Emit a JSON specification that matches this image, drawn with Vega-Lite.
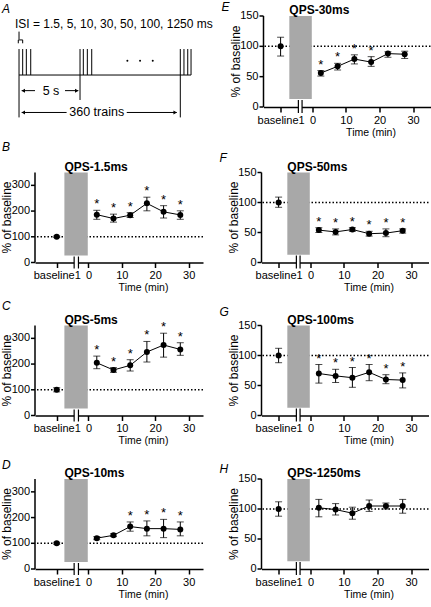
{
"$schema":"https://vega.github.io/schema/vega-lite/v6.json",
"padding":0,
"config":{
 "font":"Liberation Sans",
 "view":{"stroke":null},
 "text":{"font":"Liberation Sans","color":"#000"},
 "title":{"anchor":"start","frame":"group","fontSize":12,"fontStyle":"italic","fontWeight":"normal","font":"Liberation Sans","color":"#000"},
 "axis":{"domainColor":"#000","domainWidth":1.5,"tickColor":"#000","tickWidth":1.5,"labelColor":"#000","titleColor":"#000","labelFont":"Liberation Sans","titleFont":"Liberation Sans","labelFontSize":11,"grid":false,"labelOverlap":false,"labelFlush":false,"labelBound":false,"titleFontWeight":"normal"},
 "axisX":{"tickSize":5,"labelPadding":2,"titleFontSize":10.5,"titlePadding":2}
},
"datasets":{
"ytL":[{"v":0},{"v":100},{"v":200},{"v":300}],
"ytR":[{"v":0},{"v":50},{"v":100},{"v":150}],
"pts":[
 {"panel":"B","t":-9.5,"mean":100,"lo":97,"hi":103,"sig":false},
 {"panel":"B","t":2.5,"mean":186,"lo":168,"hi":203,"sig":true},
 {"panel":"B","t":7.5,"mean":171,"lo":157,"hi":188,"sig":true},
 {"panel":"B","t":12.5,"mean":184,"lo":175,"hi":194,"sig":true},
 {"panel":"B","t":17.5,"mean":230,"lo":201,"hi":254,"sig":true},
 {"panel":"B","t":22.5,"mean":197,"lo":173,"hi":221,"sig":true},
 {"panel":"B","t":27.5,"mean":185,"lo":168,"hi":201,"sig":true},
 {"panel":"C","t":-9.5,"mean":100,"lo":92,"hi":108,"sig":false},
 {"panel":"C","t":2.5,"mean":205,"lo":182,"hi":231,"sig":true},
 {"panel":"C","t":7.5,"mean":177,"lo":168,"hi":186,"sig":true},
 {"panel":"C","t":12.5,"mean":195,"lo":173,"hi":217,"sig":true},
 {"panel":"C","t":17.5,"mean":247,"lo":208,"hi":288,"sig":true},
 {"panel":"C","t":22.5,"mean":274,"lo":227,"hi":320,"sig":true},
 {"panel":"C","t":27.5,"mean":257,"lo":234,"hi":283,"sig":true},
 {"panel":"D","t":-9.5,"mean":100,"lo":96,"hi":104,"sig":false},
 {"panel":"D","t":2.5,"mean":120,"lo":114,"hi":126,"sig":false},
 {"panel":"D","t":7.5,"mean":131,"lo":126,"hi":137,"sig":false},
 {"panel":"D","t":12.5,"mean":165,"lo":147,"hi":183,"sig":true},
 {"panel":"D","t":17.5,"mean":157,"lo":129,"hi":187,"sig":true},
 {"panel":"D","t":22.5,"mean":157,"lo":122,"hi":193,"sig":true},
 {"panel":"D","t":27.5,"mean":154,"lo":129,"hi":183,"sig":true},
 {"panel":"E","t":-9.5,"mean":100,"lo":84,"hi":115,"sig":false},
 {"panel":"E","t":2.5,"mean":56,"lo":51,"hi":60,"sig":true},
 {"panel":"E","t":7.5,"mean":67,"lo":61,"hi":72,"sig":true},
 {"panel":"E","t":12.5,"mean":79,"lo":71,"hi":86,"sig":true},
 {"panel":"E","t":17.5,"mean":74,"lo":67,"hi":83,"sig":true},
 {"panel":"E","t":22.5,"mean":88,"lo":82,"hi":91,"sig":false},
 {"panel":"E","t":27.5,"mean":87,"lo":80,"hi":92,"sig":false},
 {"panel":"F","t":-9.5,"mean":100,"lo":92,"hi":109,"sig":false},
 {"panel":"F","t":2.5,"mean":54,"lo":50,"hi":58,"sig":true},
 {"panel":"F","t":7.5,"mean":51,"lo":46,"hi":56,"sig":true},
 {"panel":"F","t":12.5,"mean":55,"lo":52,"hi":58,"sig":true},
 {"panel":"F","t":17.5,"mean":48,"lo":44,"hi":52,"sig":true},
 {"panel":"F","t":22.5,"mean":49,"lo":43,"hi":56,"sig":true},
 {"panel":"F","t":27.5,"mean":53,"lo":49,"hi":56,"sig":true},
 {"panel":"G","t":-9.5,"mean":100,"lo":88,"hi":112,"sig":false},
 {"panel":"G","t":2.5,"mean":70,"lo":54,"hi":85,"sig":true},
 {"panel":"G","t":7.5,"mean":66,"lo":55,"hi":77,"sig":true},
 {"panel":"G","t":12.5,"mean":63,"lo":47,"hi":80,"sig":true},
 {"panel":"G","t":17.5,"mean":72,"lo":58,"hi":85,"sig":true},
 {"panel":"G","t":22.5,"mean":60,"lo":53,"hi":68,"sig":true},
 {"panel":"G","t":27.5,"mean":59,"lo":46,"hi":71,"sig":true},
 {"panel":"H","t":-9.5,"mean":100,"lo":88,"hi":112,"sig":false},
 {"panel":"H","t":2.5,"mean":102,"lo":87,"hi":116,"sig":false},
 {"panel":"H","t":7.5,"mean":99,"lo":90,"hi":109,"sig":false},
 {"panel":"H","t":12.5,"mean":93,"lo":83,"hi":103,"sig":false},
 {"panel":"H","t":17.5,"mean":105,"lo":96,"hi":115,"sig":false},
 {"panel":"H","t":22.5,"mean":105,"lo":100,"hi":110,"sig":false},
 {"panel":"H","t":27.5,"mean":105,"lo":93,"hi":116,"sig":false}
]},
"spacing":2.5,
"vconcat":[
 {"spacing":8.5,"hconcat":[
  {"width":168,"height":110,
   "title":{"text":"A","dx":-33,"offset":-0.2},
   "data":{"values":[{}]},
   "layer":[
    {"data":{"values":[{"t":0},{"t":0.3},{"t":0.6},{"t":0.96},{"t":5},{"t":5.27},{"t":5.6},{"t":5.96},{"t":13.22},{"t":13.52},{"t":13.83},{"t":14.1}]},
     "mark":{"type":"rule","color":"#000","strokeWidth":1},
     "encoding":{"x":{"field":"t","type":"quantitative","scale":{"domain":[1.31,15.08],"nice":false,"zero":false},"axis":null},
                 "y":{"datum":0,"type":"quantitative","scale":{"domain":[-1.96,2.27],"nice":false,"zero":false},"axis":null},"y2":{"datum":1}}},
    {"mark":{"type":"rule","color":"#000","strokeWidth":1},
     "encoding":{"x":{"datum":0,"type":"quantitative","scale":{"domain":[1.31,15.08],"nice":false,"zero":false},"axis":null},"x2":{"datum":14.1},"y":{"datum":0,"type":"quantitative","scale":{"domain":[-1.96,2.27],"nice":false,"zero":false},"axis":null}}},
    {"data":{"values":[{"t":0},{"t":13.22}]},"mark":{"type":"rule","color":"#000","strokeWidth":1},
     "encoding":{"x":{"field":"t","type":"quantitative","scale":{"domain":[1.31,15.08],"nice":false,"zero":false},"axis":null},"y":{"datum":0,"type":"quantitative","scale":{"domain":[-1.96,2.27],"nice":false,"zero":false},"axis":null},"y2":{"datum":-1.63}}},
    {"mark":{"type":"rule","color":"#000","strokeWidth":1},
     "encoding":{"x":{"datum":5,"type":"quantitative","scale":{"domain":[1.31,15.08],"nice":false,"zero":false},"axis":null},"y":{"datum":0,"type":"quantitative","scale":{"domain":[-1.96,2.27],"nice":false,"zero":false},"axis":null},"y2":{"datum":-0.96}}},
    {"mark":{"type":"rule","color":"#000","strokeWidth":1},
     "encoding":{"x":{"datum":0.22,"type":"quantitative","scale":{"domain":[1.31,15.08],"nice":false,"zero":false},"axis":null},"x2":{"datum":1.31},"y":{"datum":-0.6,"type":"quantitative","scale":{"domain":[-1.96,2.27],"nice":false,"zero":false},"axis":null}}},
    {"mark":{"type":"rule","color":"#000","strokeWidth":1},
     "encoding":{"x":{"datum":3.77,"type":"quantitative","scale":{"domain":[1.31,15.08],"nice":false,"zero":false},"axis":null},"x2":{"datum":4.86},"y":{"datum":-0.6,"type":"quantitative","scale":{"domain":[-1.96,2.27],"nice":false,"zero":false},"axis":null}}},
    {"mark":{"type":"rule","color":"#000","strokeWidth":1},
     "encoding":{"x":{"datum":0.22,"type":"quantitative","scale":{"domain":[1.31,15.08],"nice":false,"zero":false},"axis":null},"x2":{"datum":3.9},"y":{"datum":-1.44,"type":"quantitative","scale":{"domain":[-1.96,2.27],"nice":false,"zero":false},"axis":null}}},
    {"mark":{"type":"rule","color":"#000","strokeWidth":1},
     "encoding":{"x":{"datum":8.83,"type":"quantitative","scale":{"domain":[1.31,15.08],"nice":false,"zero":false},"axis":null},"x2":{"datum":12.93},"y":{"datum":-1.44,"type":"quantitative","scale":{"domain":[-1.96,2.27],"nice":false,"zero":false},"axis":null}}},
    {"mark":{"type":"point","shape":"triangle-left","filled":true,"opacity":1,"size":16,"color":"#000"},
     "encoding":{"x":{"datum":0.35,"type":"quantitative","scale":{"domain":[1.31,15.08],"nice":false,"zero":false},"axis":null},"y":{"datum":-0.6,"type":"quantitative","scale":{"domain":[-1.96,2.27],"nice":false,"zero":false},"axis":null}}},
    {"mark":{"type":"point","shape":"triangle-right","filled":true,"opacity":1,"size":16,"color":"#000"},
     "encoding":{"x":{"datum":4.73,"type":"quantitative","scale":{"domain":[1.31,15.08],"nice":false,"zero":false},"axis":null},"y":{"datum":-0.6,"type":"quantitative","scale":{"domain":[-1.96,2.27],"nice":false,"zero":false},"axis":null}}},
    {"mark":{"type":"point","shape":"triangle-left","filled":true,"opacity":1,"size":16,"color":"#000"},
     "encoding":{"x":{"datum":0.35,"type":"quantitative","scale":{"domain":[1.31,15.08],"nice":false,"zero":false},"axis":null},"y":{"datum":-1.44,"type":"quantitative","scale":{"domain":[-1.96,2.27],"nice":false,"zero":false},"axis":null}}},
    {"mark":{"type":"point","shape":"triangle-right","filled":true,"opacity":1,"size":16,"color":"#000"},
     "encoding":{"x":{"datum":12.8,"type":"quantitative","scale":{"domain":[1.31,15.08],"nice":false,"zero":false},"axis":null},"y":{"datum":-1.44,"type":"quantitative","scale":{"domain":[-1.96,2.27],"nice":false,"zero":false},"axis":null}}},
    {"mark":{"type":"text","text":"5 s","align":"center","baseline":"middle","fontSize":12.5,"fill":"#000"},
     "encoding":{"x":{"datum":2.62,"type":"quantitative","scale":{"domain":[1.31,15.08],"nice":false,"zero":false},"axis":null},"y":{"datum":-0.6,"type":"quantitative","scale":{"domain":[-1.96,2.27],"nice":false,"zero":false},"axis":null}}},
    {"mark":{"type":"text","text":"360 trains","align":"center","baseline":"middle","fontSize":12.5,"fill":"#000"},
     "encoding":{"x":{"datum":6.37,"type":"quantitative","scale":{"domain":[1.31,15.08],"nice":false,"zero":false},"axis":null},"y":{"datum":-1.44,"type":"quantitative","scale":{"domain":[-1.96,2.27],"nice":false,"zero":false},"axis":null}}},
    {"data":{"values":[{"t":8.88},{"t":9.92},{"t":10.96}]},"mark":{"type":"point","filled":true,"opacity":1,"size":4,"color":"#000"},
     "encoding":{"x":{"field":"t","type":"quantitative","scale":{"domain":[1.31,15.08],"nice":false,"zero":false},"axis":null},"y":{"datum":0.55,"type":"quantitative","scale":{"domain":[-1.96,2.27],"nice":false,"zero":false},"axis":null}}},
    {"mark":{"type":"text","text":"ISI = 1.5, 5, 10, 30, 50, 100, 1250 ms","align":"left","baseline":"alphabetic","fontSize":12,"fill":"#000"},
     "encoding":{"x":{"datum":-0.33,"type":"quantitative","scale":{"domain":[1.31,15.08],"nice":false,"zero":false},"axis":null},"y":{"datum":1.8,"type":"quantitative","scale":{"domain":[-1.96,2.27],"nice":false,"zero":false},"axis":null}}},
    {"mark":{"type":"rule","color":"#000","strokeWidth":1},
     "encoding":{"x":{"datum":0,"type":"quantitative","scale":{"domain":[1.31,15.08],"nice":false,"zero":false},"axis":null},"y":{"datum":1.67,"type":"quantitative","scale":{"domain":[-1.96,2.27],"nice":false,"zero":false},"axis":null},"y2":{"datum":1.37}}},
    {"mark":{"type":"rule","color":"#000","strokeWidth":1},
     "encoding":{"x":{"datum":-0.06,"type":"quantitative","scale":{"domain":[1.31,15.08],"nice":false,"zero":false},"axis":null},"x2":{"datum":0.3},"y":{"datum":1.35,"type":"quantitative","scale":{"domain":[-1.96,2.27],"nice":false,"zero":false},"axis":null}}},
    {"mark":{"type":"rule","color":"#000","strokeWidth":1},
     "encoding":{"x":{"datum":-0.06,"type":"quantitative","scale":{"domain":[1.31,15.08],"nice":false,"zero":false},"axis":null},"y":{"datum":1.35,"type":"quantitative","scale":{"domain":[-1.96,2.27],"nice":false,"zero":false},"axis":null},"y2":{"datum":1.22}}},
    {"mark":{"type":"rule","color":"#000","strokeWidth":1},
     "encoding":{"x":{"datum":0.3,"type":"quantitative","scale":{"domain":[1.31,15.08],"nice":false,"zero":false},"axis":null},"y":{"datum":1.35,"type":"quantitative","scale":{"domain":[-1.96,2.27],"nice":false,"zero":false},"axis":null},"y2":{"datum":1.22}}}
   ]},
  {"width":167,"height":91,
   "title":{"text":"E","dx":-42,"offset":-9.5},
   "data":{"name":"pts"},
   "transform":[{"filter":"datum.panel === 'E'"}],
   "layer":[
    {"data":{"values":[{}]},"mark":{"type":"rule","color":"#000","strokeWidth":1.5,"strokeDash":[1.5,2]},
     "encoding":{"y":{"datum":100,"type":"quantitative","scale":{"domain":[0,150],"nice":false,"zero":false},"axis":null}}},
    {"data":{"values":[{}]},"mark":{"type":"rect","color":"#a8a8a8"},
     "encoding":{"x":{"datum":-6.9,"type":"quantitative","scale":{"domain":[-14.6,35.2],"nice":false,"zero":false}},"x2":{"datum":-0.2},"y":{"datum":13,"type":"quantitative","scale":{"domain":[0,150],"nice":false,"zero":false},"axis":null},"y2":{"datum":150}}},
    {"data":{"values":[{}]},"mark":{"type":"rect","color":"#fff","yOffset":3.5,"y2Offset":-3.5},
     "encoding":{"x":{"datum":-4.2,"type":"quantitative","scale":{"domain":[-14.6,35.2],"nice":false,"zero":false}},"x2":{"datum":-3.1},"y":{"datum":0,"type":"quantitative","scale":{"domain":[0,150],"nice":false,"zero":false},"axis":null},"y2":{"datum":0}}},
    {"data":{"values":[{}]},"mark":{"type":"rule","color":"#000","strokeWidth":1.2,"yOffset":6,"y2Offset":-7},
     "encoding":{"x":{"datum":-4.2,"type":"quantitative","scale":{"domain":[-14.6,35.2],"nice":false,"zero":false}},"y":{"datum":0,"type":"quantitative","scale":{"domain":[0,150],"nice":false,"zero":false},"axis":null},"y2":{"datum":0}}},
    {"data":{"values":[{}]},"mark":{"type":"rule","color":"#000","strokeWidth":1.2,"yOffset":6,"y2Offset":-7},
     "encoding":{"x":{"datum":-3.1,"type":"quantitative","scale":{"domain":[-14.6,35.2],"nice":false,"zero":false}},"y":{"datum":0,"type":"quantitative","scale":{"domain":[0,150],"nice":false,"zero":false},"axis":null},"y2":{"datum":0}}},
    {"data":{"values":[{}]},"mark":{"type":"text","text":"QPS-30ms","align":"left","baseline":"alphabetic","dy":-2,"fontSize":12,"fontWeight":"bold","fill":"#000"},
     "encoding":{"x":{"datum":-6.9,"type":"quantitative","scale":{"domain":[-14.6,35.2],"nice":false,"zero":false}},"y":{"datum":150,"type":"quantitative","scale":{"domain":[0,150],"nice":false,"zero":false},"axis":null}}},
    {"mark":{"type":"errorbar","color":"#000","ticks":{"size":7},"rule":{"strokeWidth":1}},
     "encoding":{"x":{"field":"t","type":"quantitative","title":"Time (min)","scale":{"domain":[-14.6,35.2],"nice":false,"zero":false}},"y":{"field":"lo","type":"quantitative","scale":{"domain":[0,150],"nice":false,"zero":false},"axis":null},"y2":{"field":"hi"}}},
    {"transform":[{"filter":"datum.t > 0"}],"mark":{"type":"line","color":"#000","strokeWidth":1},
     "encoding":{"x":{"field":"t","type":"quantitative","title":"Time (min)","scale":{"domain":[-14.6,35.2],"nice":false,"zero":false}},"y":{"field":"mean","type":"quantitative","scale":{"domain":[0,150],"nice":false,"zero":false},"axis":null}}},
    {"mark":{"type":"point","filled":true,"opacity":1,"size":36,"color":"#000"},
     "encoding":{"x":{"field":"t","type":"quantitative","scale":{"domain":[-14.6,35.2],"nice":false,"zero":false},"axis":{"title":"Time (min)","values":[-9.5,0,10,20,30],"labelExpr":"datum.value == -9.5 ? 'baseline1' : datum.label","titleX":107}},
                 "y":{"field":"mean","type":"quantitative","scale":{"domain":[0,150],"nice":false,"zero":false},"axis":null}}},
    {"transform":[{"filter":"datum.sig"}],"mark":{"type":"text","text":"*","dy":-2,"fontSize":13,"baseline":"alphabetic","fill":"#000"},
     "encoding":{"x":{"field":"t","type":"quantitative","title":"Time (min)","scale":{"domain":[-14.6,35.2],"nice":false,"zero":false}},"y":{"field":"hi","type":"quantitative","scale":{"domain":[0,150],"nice":false,"zero":false},"axis":null}}},
    {"data":{"values":[{}]},"mark":{"type":"rule","color":"#000","strokeWidth":1.5},
     "encoding":{"x":{"datum":-14.6,"type":"quantitative","scale":{"domain":[-14.6,35.2],"nice":false,"zero":false}},"y":{"datum":0,"type":"quantitative","scale":{"domain":[0,150],"nice":false,"zero":false},"axis":null},"y2":{"datum":150}}},
    {"data":{"name":"ytR"},"mark":{"type":"rule","color":"#000","strokeWidth":1.5,"x2Offset":-4},
     "encoding":{"x":{"datum":-14.6,"type":"quantitative","scale":{"domain":[-14.6,35.2],"nice":false,"zero":false}},"x2":{"datum":-14.6},"y":{"field":"v","type":"quantitative","scale":{"domain":[0,150],"nice":false,"zero":false},"axis":null}}},
    {"data":{"name":"ytR"},"mark":{"type":"text","align":"right","baseline":"middle","dx":-5,"fontSize":11,"fill":"#000"},
     "encoding":{"x":{"datum":-14.6,"type":"quantitative","scale":{"domain":[-14.6,35.2],"nice":false,"zero":false}},"y":{"field":"v","type":"quantitative","scale":{"domain":[0,150],"nice":false,"zero":false},"axis":null},"text":{"field":"v","type":"quantitative"}}},
    {"data":{"values":[{}]},"mark":{"type":"text","text":"% of baseline","angle":270,"align":"center","baseline":"middle","dy":-28,"fontSize":12,"fill":"#000"},
     "encoding":{"x":{"datum":-14.6,"type":"quantitative","scale":{"domain":[-14.6,35.2],"nice":false,"zero":false}},"y":{"datum":75,"type":"quantitative","scale":{"domain":[0,150],"nice":false,"zero":false},"axis":null}}}
   ]}
 ]},
 {"spacing":6,"vconcat":[
  {"spacing":15.5,"hconcat":[
   {"width":168,"height":90,
    "title":{"text":"B","dx":-33,"offset":6.7},
    "data":{"name":"pts"},
    "transform":[{"filter":"datum.panel === 'B'"}],
    "layer":[
     {"data":{"values":[{}]},"mark":{"type":"rule","color":"#000","strokeWidth":1.5,"strokeDash":[1.5,2]},
      "encoding":{"y":{"datum":100,"type":"quantitative","scale":{"domain":[0,350],"nice":false,"zero":false},"axis":null}}},
     {"data":{"values":[{}]},"mark":{"type":"rect","color":"#a8a8a8"},
      "encoding":{"x":{"datum":-7.2,"type":"quantitative","scale":{"domain":[-16,34.3],"nice":false,"zero":false}},"x2":{"datum":-0.2},"y":{"datum":27,"type":"quantitative","scale":{"domain":[0,350],"nice":false,"zero":false},"axis":null},"y2":{"datum":350}}},
     {"data":{"values":[{}]},"mark":{"type":"rect","color":"#fff","yOffset":3.5,"y2Offset":-3.5},
      "encoding":{"x":{"datum":-4.28,"type":"quantitative","scale":{"domain":[-16,34.3],"nice":false,"zero":false}},"x2":{"datum":-2.99},"y":{"datum":0,"type":"quantitative","scale":{"domain":[0,350],"nice":false,"zero":false},"axis":null},"y2":{"datum":0}}},
     {"data":{"values":[{}]},"mark":{"type":"rule","color":"#000","strokeWidth":1.2,"yOffset":6,"y2Offset":-6},
      "encoding":{"x":{"datum":-4.28,"type":"quantitative","scale":{"domain":[-16,34.3],"nice":false,"zero":false}},"y":{"datum":0,"type":"quantitative","scale":{"domain":[0,350],"nice":false,"zero":false},"axis":null},"y2":{"datum":0}}},
     {"data":{"values":[{}]},"mark":{"type":"rule","color":"#000","strokeWidth":1.2,"yOffset":6,"y2Offset":-6},
      "encoding":{"x":{"datum":-2.99,"type":"quantitative","scale":{"domain":[-16,34.3],"nice":false,"zero":false}},"y":{"datum":0,"type":"quantitative","scale":{"domain":[0,350],"nice":false,"zero":false},"axis":null},"y2":{"datum":0}}},
     {"data":{"values":[{}]},"mark":{"type":"text","text":"QPS-1.5ms","align":"left","baseline":"alphabetic","dy":-2,"fontSize":12,"fontWeight":"bold","fill":"#000"},
      "encoding":{"x":{"datum":-7.2,"type":"quantitative","scale":{"domain":[-16,34.3],"nice":false,"zero":false}},"y":{"datum":350,"type":"quantitative","scale":{"domain":[0,350],"nice":false,"zero":false},"axis":null}}},
     {"mark":{"type":"errorbar","color":"#000","ticks":{"size":7},"rule":{"strokeWidth":1}},
      "encoding":{"x":{"field":"t","type":"quantitative","title":"Time (min)","scale":{"domain":[-16,34.3],"nice":false,"zero":false}},"y":{"field":"lo","type":"quantitative","scale":{"domain":[0,350],"nice":false,"zero":false},"axis":null},"y2":{"field":"hi"}}},
     {"transform":[{"filter":"datum.t > 0"}],"mark":{"type":"line","color":"#000","strokeWidth":1},
      "encoding":{"x":{"field":"t","type":"quantitative","title":"Time (min)","scale":{"domain":[-16,34.3],"nice":false,"zero":false}},"y":{"field":"mean","type":"quantitative","scale":{"domain":[0,350],"nice":false,"zero":false},"axis":null}}},
     {"mark":{"type":"point","filled":true,"opacity":1,"size":36,"color":"#000"},
      "encoding":{"x":{"field":"t","type":"quantitative","scale":{"domain":[-16,34.3],"nice":false,"zero":false},"axis":{"title":"Time (min)","values":[-9.5,0,10,20,30],"labelExpr":"datum.value == -9.5 ? 'baseline1' : datum.label","titleX":108}},
                  "y":{"field":"mean","type":"quantitative","scale":{"domain":[0,350],"nice":false,"zero":false},"axis":null}}},
     {"transform":[{"filter":"datum.sig"}],"mark":{"type":"text","text":"*","dy":-2,"fontSize":13,"baseline":"alphabetic","fill":"#000"},
      "encoding":{"x":{"field":"t","type":"quantitative","title":"Time (min)","scale":{"domain":[-16,34.3],"nice":false,"zero":false}},"y":{"field":"hi","type":"quantitative","scale":{"domain":[0,350],"nice":false,"zero":false},"axis":null}}},
     {"data":{"values":[{}]},"mark":{"type":"rule","color":"#000","strokeWidth":1.5},
      "encoding":{"x":{"datum":-16,"type":"quantitative","scale":{"domain":[-16,34.3],"nice":false,"zero":false}},"y":{"datum":0,"type":"quantitative","scale":{"domain":[0,350],"nice":false,"zero":false},"axis":null},"y2":{"datum":350}}},
     {"data":{"name":"ytL"},"mark":{"type":"rule","color":"#000","strokeWidth":1.5,"x2Offset":-4},
      "encoding":{"x":{"datum":-16,"type":"quantitative","scale":{"domain":[-16,34.3],"nice":false,"zero":false}},"x2":{"datum":-16},"y":{"field":"v","type":"quantitative","scale":{"domain":[0,350],"nice":false,"zero":false},"axis":null}}},
     {"data":{"name":"ytL"},"mark":{"type":"text","align":"right","baseline":"middle","dx":-5,"fontSize":11,"fill":"#000"},
      "encoding":{"x":{"datum":-16,"type":"quantitative","scale":{"domain":[-16,34.3],"nice":false,"zero":false}},"y":{"field":"v","type":"quantitative","scale":{"domain":[0,350],"nice":false,"zero":false},"axis":null},"text":{"field":"v","type":"quantitative"}}},
     {"data":{"values":[{}]},"mark":{"type":"text","text":"% of baseline","angle":270,"align":"center","baseline":"middle","dy":-28,"fontSize":12,"fill":"#000"},
      "encoding":{"x":{"datum":-16,"type":"quantitative","scale":{"domain":[-16,34.3],"nice":false,"zero":false}},"y":{"datum":175,"type":"quantitative","scale":{"domain":[0,350],"nice":false,"zero":false},"axis":null}}}
    ]},
   {"width":167,"height":90,
    "title":{"text":"F","dx":-42,"offset":-4},
    "data":{"name":"pts"},
    "transform":[{"filter":"datum.panel === 'F'"}],
    "layer":[
     {"data":{"values":[{}]},"mark":{"type":"rule","color":"#000","strokeWidth":1.5,"strokeDash":[1.5,2]},
      "encoding":{"y":{"datum":100,"type":"quantitative","scale":{"domain":[0,150],"nice":false,"zero":false},"axis":null}}},
     {"data":{"values":[{}]},"mark":{"type":"rect","color":"#a8a8a8"},
      "encoding":{"x":{"datum":-6.9,"type":"quantitative","scale":{"domain":[-14.6,35.2],"nice":false,"zero":false}},"x2":{"datum":-0.2},"y":{"datum":13,"type":"quantitative","scale":{"domain":[0,150],"nice":false,"zero":false},"axis":null},"y2":{"datum":150}}},
     {"data":{"values":[{}]},"mark":{"type":"rect","color":"#fff","yOffset":3.5,"y2Offset":-3.5},
      "encoding":{"x":{"datum":-4.2,"type":"quantitative","scale":{"domain":[-14.6,35.2],"nice":false,"zero":false}},"x2":{"datum":-3.1},"y":{"datum":0,"type":"quantitative","scale":{"domain":[0,150],"nice":false,"zero":false},"axis":null},"y2":{"datum":0}}},
     {"data":{"values":[{}]},"mark":{"type":"rule","color":"#000","strokeWidth":1.2,"yOffset":6,"y2Offset":-7},
      "encoding":{"x":{"datum":-4.2,"type":"quantitative","scale":{"domain":[-14.6,35.2],"nice":false,"zero":false}},"y":{"datum":0,"type":"quantitative","scale":{"domain":[0,150],"nice":false,"zero":false},"axis":null},"y2":{"datum":0}}},
     {"data":{"values":[{}]},"mark":{"type":"rule","color":"#000","strokeWidth":1.2,"yOffset":6,"y2Offset":-7},
      "encoding":{"x":{"datum":-3.1,"type":"quantitative","scale":{"domain":[-14.6,35.2],"nice":false,"zero":false}},"y":{"datum":0,"type":"quantitative","scale":{"domain":[0,150],"nice":false,"zero":false},"axis":null},"y2":{"datum":0}}},
     {"data":{"values":[{}]},"mark":{"type":"text","text":"QPS-50ms","align":"left","baseline":"alphabetic","dy":-2,"fontSize":12,"fontWeight":"bold","fill":"#000"},
      "encoding":{"x":{"datum":-6.9,"type":"quantitative","scale":{"domain":[-14.6,35.2],"nice":false,"zero":false}},"y":{"datum":150,"type":"quantitative","scale":{"domain":[0,150],"nice":false,"zero":false},"axis":null}}},
     {"mark":{"type":"errorbar","color":"#000","ticks":{"size":7},"rule":{"strokeWidth":1}},
      "encoding":{"x":{"field":"t","type":"quantitative","title":"Time (min)","scale":{"domain":[-14.6,35.2],"nice":false,"zero":false}},"y":{"field":"lo","type":"quantitative","scale":{"domain":[0,150],"nice":false,"zero":false},"axis":null},"y2":{"field":"hi"}}},
     {"transform":[{"filter":"datum.t > 0"}],"mark":{"type":"line","color":"#000","strokeWidth":1},
      "encoding":{"x":{"field":"t","type":"quantitative","title":"Time (min)","scale":{"domain":[-14.6,35.2],"nice":false,"zero":false}},"y":{"field":"mean","type":"quantitative","scale":{"domain":[0,150],"nice":false,"zero":false},"axis":null}}},
     {"mark":{"type":"point","filled":true,"opacity":1,"size":36,"color":"#000"},
      "encoding":{"x":{"field":"t","type":"quantitative","scale":{"domain":[-14.6,35.2],"nice":false,"zero":false},"axis":{"title":"Time (min)","values":[-9.5,0,10,20,30],"labelExpr":"datum.value == -9.5 ? 'baseline1' : datum.label","titleX":107}},
                  "y":{"field":"mean","type":"quantitative","scale":{"domain":[0,150],"nice":false,"zero":false},"axis":null}}},
     {"transform":[{"filter":"datum.sig"}],"mark":{"type":"text","text":"*","dy":-2,"fontSize":13,"baseline":"alphabetic","fill":"#000"},
      "encoding":{"x":{"field":"t","type":"quantitative","title":"Time (min)","scale":{"domain":[-14.6,35.2],"nice":false,"zero":false}},"y":{"field":"hi","type":"quantitative","scale":{"domain":[0,150],"nice":false,"zero":false},"axis":null}}},
     {"data":{"values":[{}]},"mark":{"type":"rule","color":"#000","strokeWidth":1.5},
      "encoding":{"x":{"datum":-14.6,"type":"quantitative","scale":{"domain":[-14.6,35.2],"nice":false,"zero":false}},"y":{"datum":0,"type":"quantitative","scale":{"domain":[0,150],"nice":false,"zero":false},"axis":null},"y2":{"datum":150}}},
     {"data":{"name":"ytR"},"mark":{"type":"rule","color":"#000","strokeWidth":1.5,"x2Offset":-4},
      "encoding":{"x":{"datum":-14.6,"type":"quantitative","scale":{"domain":[-14.6,35.2],"nice":false,"zero":false}},"x2":{"datum":-14.6},"y":{"field":"v","type":"quantitative","scale":{"domain":[0,150],"nice":false,"zero":false},"axis":null}}},
     {"data":{"name":"ytR"},"mark":{"type":"text","align":"right","baseline":"middle","dx":-5,"fontSize":11,"fill":"#000"},
      "encoding":{"x":{"datum":-14.6,"type":"quantitative","scale":{"domain":[-14.6,35.2],"nice":false,"zero":false}},"y":{"field":"v","type":"quantitative","scale":{"domain":[0,150],"nice":false,"zero":false},"axis":null},"text":{"field":"v","type":"quantitative"}}},
     {"data":{"values":[{}]},"mark":{"type":"text","text":"% of baseline","angle":270,"align":"center","baseline":"middle","dy":-28,"fontSize":12,"fill":"#000"},
      "encoding":{"x":{"datum":-14.6,"type":"quantitative","scale":{"domain":[-14.6,35.2],"nice":false,"zero":false}},"y":{"datum":75,"type":"quantitative","scale":{"domain":[0,150],"nice":false,"zero":false},"axis":null}}}
    ]}
  ]},
  {"spacing":11.5,"vconcat":[
   {"spacing":15.5,"hconcat":[
    {"width":168,"height":90,
     "title":{"text":"C","dx":-33,"offset":0.6},
     "data":{"name":"pts"},
     "transform":[{"filter":"datum.panel === 'C'"}],
     "layer":[
      {"data":{"values":[{}]},"mark":{"type":"rule","color":"#000","strokeWidth":1.5,"strokeDash":[1.5,2]},
       "encoding":{"y":{"datum":100,"type":"quantitative","scale":{"domain":[0,350],"nice":false,"zero":false},"axis":null}}},
      {"data":{"values":[{}]},"mark":{"type":"rect","color":"#a8a8a8"},
       "encoding":{"x":{"datum":-7.2,"type":"quantitative","scale":{"domain":[-16,34.3],"nice":false,"zero":false}},"x2":{"datum":-0.2},"y":{"datum":27,"type":"quantitative","scale":{"domain":[0,350],"nice":false,"zero":false},"axis":null},"y2":{"datum":350}}},
      {"data":{"values":[{}]},"mark":{"type":"rect","color":"#fff","yOffset":3.5,"y2Offset":-3.5},
       "encoding":{"x":{"datum":-4.28,"type":"quantitative","scale":{"domain":[-16,34.3],"nice":false,"zero":false}},"x2":{"datum":-2.99},"y":{"datum":0,"type":"quantitative","scale":{"domain":[0,350],"nice":false,"zero":false},"axis":null},"y2":{"datum":0}}},
      {"data":{"values":[{}]},"mark":{"type":"rule","color":"#000","strokeWidth":1.2,"yOffset":6,"y2Offset":-6},
       "encoding":{"x":{"datum":-4.28,"type":"quantitative","scale":{"domain":[-16,34.3],"nice":false,"zero":false}},"y":{"datum":0,"type":"quantitative","scale":{"domain":[0,350],"nice":false,"zero":false},"axis":null},"y2":{"datum":0}}},
      {"data":{"values":[{}]},"mark":{"type":"rule","color":"#000","strokeWidth":1.2,"yOffset":6,"y2Offset":-6},
       "encoding":{"x":{"datum":-2.99,"type":"quantitative","scale":{"domain":[-16,34.3],"nice":false,"zero":false}},"y":{"datum":0,"type":"quantitative","scale":{"domain":[0,350],"nice":false,"zero":false},"axis":null},"y2":{"datum":0}}},
      {"data":{"values":[{}]},"mark":{"type":"text","text":"QPS-5ms","align":"left","baseline":"alphabetic","dy":-2,"fontSize":12,"fontWeight":"bold","fill":"#000"},
       "encoding":{"x":{"datum":-7.2,"type":"quantitative","scale":{"domain":[-16,34.3],"nice":false,"zero":false}},"y":{"datum":350,"type":"quantitative","scale":{"domain":[0,350],"nice":false,"zero":false},"axis":null}}},
      {"mark":{"type":"errorbar","color":"#000","ticks":{"size":7},"rule":{"strokeWidth":1}},
       "encoding":{"x":{"field":"t","type":"quantitative","title":"Time (min)","scale":{"domain":[-16,34.3],"nice":false,"zero":false}},"y":{"field":"lo","type":"quantitative","scale":{"domain":[0,350],"nice":false,"zero":false},"axis":null},"y2":{"field":"hi"}}},
      {"transform":[{"filter":"datum.t > 0"}],"mark":{"type":"line","color":"#000","strokeWidth":1},
       "encoding":{"x":{"field":"t","type":"quantitative","title":"Time (min)","scale":{"domain":[-16,34.3],"nice":false,"zero":false}},"y":{"field":"mean","type":"quantitative","scale":{"domain":[0,350],"nice":false,"zero":false},"axis":null}}},
      {"mark":{"type":"point","filled":true,"opacity":1,"size":36,"color":"#000"},
       "encoding":{"x":{"field":"t","type":"quantitative","scale":{"domain":[-16,34.3],"nice":false,"zero":false},"axis":{"title":"Time (min)","values":[-9.5,0,10,20,30],"labelExpr":"datum.value == -9.5 ? 'baseline1' : datum.label","titleX":108}},
                   "y":{"field":"mean","type":"quantitative","scale":{"domain":[0,350],"nice":false,"zero":false},"axis":null}}},
      {"transform":[{"filter":"datum.sig"}],"mark":{"type":"text","text":"*","dy":-2,"fontSize":13,"baseline":"alphabetic","fill":"#000"},
       "encoding":{"x":{"field":"t","type":"quantitative","title":"Time (min)","scale":{"domain":[-16,34.3],"nice":false,"zero":false}},"y":{"field":"hi","type":"quantitative","scale":{"domain":[0,350],"nice":false,"zero":false},"axis":null}}},
      {"data":{"values":[{}]},"mark":{"type":"rule","color":"#000","strokeWidth":1.5},
       "encoding":{"x":{"datum":-16,"type":"quantitative","scale":{"domain":[-16,34.3],"nice":false,"zero":false}},"y":{"datum":0,"type":"quantitative","scale":{"domain":[0,350],"nice":false,"zero":false},"axis":null},"y2":{"datum":350}}},
      {"data":{"name":"ytL"},"mark":{"type":"rule","color":"#000","strokeWidth":1.5,"x2Offset":-4},
       "encoding":{"x":{"datum":-16,"type":"quantitative","scale":{"domain":[-16,34.3],"nice":false,"zero":false}},"x2":{"datum":-16},"y":{"field":"v","type":"quantitative","scale":{"domain":[0,350],"nice":false,"zero":false},"axis":null}}},
      {"data":{"name":"ytL"},"mark":{"type":"text","align":"right","baseline":"middle","dx":-5,"fontSize":11,"fill":"#000"},
       "encoding":{"x":{"datum":-16,"type":"quantitative","scale":{"domain":[-16,34.3],"nice":false,"zero":false}},"y":{"field":"v","type":"quantitative","scale":{"domain":[0,350],"nice":false,"zero":false},"axis":null},"text":{"field":"v","type":"quantitative"}}},
      {"data":{"values":[{}]},"mark":{"type":"text","text":"% of baseline","angle":270,"align":"center","baseline":"middle","dy":-28,"fontSize":12,"fill":"#000"},
       "encoding":{"x":{"datum":-16,"type":"quantitative","scale":{"domain":[-16,34.3],"nice":false,"zero":false}},"y":{"datum":175,"type":"quantitative","scale":{"domain":[0,350],"nice":false,"zero":false},"axis":null}}}
     ]},
    {"width":167,"height":90,
     "title":{"text":"G","dx":-42,"offset":-5},
     "data":{"name":"pts"},
     "transform":[{"filter":"datum.panel === 'G'"}],
     "layer":[
      {"data":{"values":[{}]},"mark":{"type":"rule","color":"#000","strokeWidth":1.5,"strokeDash":[1.5,2]},
       "encoding":{"y":{"datum":100,"type":"quantitative","scale":{"domain":[0,150],"nice":false,"zero":false},"axis":null}}},
      {"data":{"values":[{}]},"mark":{"type":"rect","color":"#a8a8a8"},
       "encoding":{"x":{"datum":-6.9,"type":"quantitative","scale":{"domain":[-14.6,35.2],"nice":false,"zero":false}},"x2":{"datum":-0.2},"y":{"datum":13,"type":"quantitative","scale":{"domain":[0,150],"nice":false,"zero":false},"axis":null},"y2":{"datum":150}}},
      {"data":{"values":[{}]},"mark":{"type":"rect","color":"#fff","yOffset":3.5,"y2Offset":-3.5},
       "encoding":{"x":{"datum":-4.2,"type":"quantitative","scale":{"domain":[-14.6,35.2],"nice":false,"zero":false}},"x2":{"datum":-3.1},"y":{"datum":0,"type":"quantitative","scale":{"domain":[0,150],"nice":false,"zero":false},"axis":null},"y2":{"datum":0}}},
      {"data":{"values":[{}]},"mark":{"type":"rule","color":"#000","strokeWidth":1.2,"yOffset":6,"y2Offset":-7},
       "encoding":{"x":{"datum":-4.2,"type":"quantitative","scale":{"domain":[-14.6,35.2],"nice":false,"zero":false}},"y":{"datum":0,"type":"quantitative","scale":{"domain":[0,150],"nice":false,"zero":false},"axis":null},"y2":{"datum":0}}},
      {"data":{"values":[{}]},"mark":{"type":"rule","color":"#000","strokeWidth":1.2,"yOffset":6,"y2Offset":-7},
       "encoding":{"x":{"datum":-3.1,"type":"quantitative","scale":{"domain":[-14.6,35.2],"nice":false,"zero":false}},"y":{"datum":0,"type":"quantitative","scale":{"domain":[0,150],"nice":false,"zero":false},"axis":null},"y2":{"datum":0}}},
      {"data":{"values":[{}]},"mark":{"type":"text","text":"QPS-100ms","align":"left","baseline":"alphabetic","dy":-2,"fontSize":12,"fontWeight":"bold","fill":"#000"},
       "encoding":{"x":{"datum":-6.9,"type":"quantitative","scale":{"domain":[-14.6,35.2],"nice":false,"zero":false}},"y":{"datum":150,"type":"quantitative","scale":{"domain":[0,150],"nice":false,"zero":false},"axis":null}}},
      {"mark":{"type":"errorbar","color":"#000","ticks":{"size":7},"rule":{"strokeWidth":1}},
       "encoding":{"x":{"field":"t","type":"quantitative","title":"Time (min)","scale":{"domain":[-14.6,35.2],"nice":false,"zero":false}},"y":{"field":"lo","type":"quantitative","scale":{"domain":[0,150],"nice":false,"zero":false},"axis":null},"y2":{"field":"hi"}}},
      {"transform":[{"filter":"datum.t > 0"}],"mark":{"type":"line","color":"#000","strokeWidth":1},
       "encoding":{"x":{"field":"t","type":"quantitative","title":"Time (min)","scale":{"domain":[-14.6,35.2],"nice":false,"zero":false}},"y":{"field":"mean","type":"quantitative","scale":{"domain":[0,150],"nice":false,"zero":false},"axis":null}}},
      {"mark":{"type":"point","filled":true,"opacity":1,"size":36,"color":"#000"},
       "encoding":{"x":{"field":"t","type":"quantitative","scale":{"domain":[-14.6,35.2],"nice":false,"zero":false},"axis":{"title":"Time (min)","values":[-9.5,0,10,20,30],"labelExpr":"datum.value == -9.5 ? 'baseline1' : datum.label","titleX":107}},
                   "y":{"field":"mean","type":"quantitative","scale":{"domain":[0,150],"nice":false,"zero":false},"axis":null}}},
      {"transform":[{"filter":"datum.sig"}],"mark":{"type":"text","text":"*","dy":-2,"fontSize":13,"baseline":"alphabetic","fill":"#000"},
       "encoding":{"x":{"field":"t","type":"quantitative","title":"Time (min)","scale":{"domain":[-14.6,35.2],"nice":false,"zero":false}},"y":{"field":"hi","type":"quantitative","scale":{"domain":[0,150],"nice":false,"zero":false},"axis":null}}},
      {"data":{"values":[{}]},"mark":{"type":"rule","color":"#000","strokeWidth":1.5},
       "encoding":{"x":{"datum":-14.6,"type":"quantitative","scale":{"domain":[-14.6,35.2],"nice":false,"zero":false}},"y":{"datum":0,"type":"quantitative","scale":{"domain":[0,150],"nice":false,"zero":false},"axis":null},"y2":{"datum":150}}},
      {"data":{"name":"ytR"},"mark":{"type":"rule","color":"#000","strokeWidth":1.5,"x2Offset":-4},
       "encoding":{"x":{"datum":-14.6,"type":"quantitative","scale":{"domain":[-14.6,35.2],"nice":false,"zero":false}},"x2":{"datum":-14.6},"y":{"field":"v","type":"quantitative","scale":{"domain":[0,150],"nice":false,"zero":false},"axis":null}}},
      {"data":{"name":"ytR"},"mark":{"type":"text","align":"right","baseline":"middle","dx":-5,"fontSize":11,"fill":"#000"},
       "encoding":{"x":{"datum":-14.6,"type":"quantitative","scale":{"domain":[-14.6,35.2],"nice":false,"zero":false}},"y":{"field":"v","type":"quantitative","scale":{"domain":[0,150],"nice":false,"zero":false},"axis":null},"text":{"field":"v","type":"quantitative"}}},
      {"data":{"values":[{}]},"mark":{"type":"text","text":"% of baseline","angle":270,"align":"center","baseline":"middle","dy":-28,"fontSize":12,"fill":"#000"},
       "encoding":{"x":{"datum":-14.6,"type":"quantitative","scale":{"domain":[-14.6,35.2],"nice":false,"zero":false}},"y":{"datum":75,"type":"quantitative","scale":{"domain":[0,150],"nice":false,"zero":false},"axis":null}}}
     ]}
   ]},
   {"spacing":15.5,"hconcat":[
    {"width":168,"height":90,
     "title":{"text":"D","dx":-33,"offset":-4.6},
     "data":{"name":"pts"},
     "transform":[{"filter":"datum.panel === 'D'"}],
     "layer":[
      {"data":{"values":[{}]},"mark":{"type":"rule","color":"#000","strokeWidth":1.5,"strokeDash":[1.5,2]},
       "encoding":{"y":{"datum":100,"type":"quantitative","scale":{"domain":[0,350],"nice":false,"zero":false},"axis":null}}},
      {"data":{"values":[{}]},"mark":{"type":"rect","color":"#a8a8a8"},
       "encoding":{"x":{"datum":-7.2,"type":"quantitative","scale":{"domain":[-16,34.3],"nice":false,"zero":false}},"x2":{"datum":-0.2},"y":{"datum":27,"type":"quantitative","scale":{"domain":[0,350],"nice":false,"zero":false},"axis":null},"y2":{"datum":350}}},
      {"data":{"values":[{}]},"mark":{"type":"rect","color":"#fff","yOffset":3.5,"y2Offset":-3.5},
       "encoding":{"x":{"datum":-4.28,"type":"quantitative","scale":{"domain":[-16,34.3],"nice":false,"zero":false}},"x2":{"datum":-2.99},"y":{"datum":0,"type":"quantitative","scale":{"domain":[0,350],"nice":false,"zero":false},"axis":null},"y2":{"datum":0}}},
      {"data":{"values":[{}]},"mark":{"type":"rule","color":"#000","strokeWidth":1.2,"yOffset":6,"y2Offset":-6},
       "encoding":{"x":{"datum":-4.28,"type":"quantitative","scale":{"domain":[-16,34.3],"nice":false,"zero":false}},"y":{"datum":0,"type":"quantitative","scale":{"domain":[0,350],"nice":false,"zero":false},"axis":null},"y2":{"datum":0}}},
      {"data":{"values":[{}]},"mark":{"type":"rule","color":"#000","strokeWidth":1.2,"yOffset":6,"y2Offset":-6},
       "encoding":{"x":{"datum":-2.99,"type":"quantitative","scale":{"domain":[-16,34.3],"nice":false,"zero":false}},"y":{"datum":0,"type":"quantitative","scale":{"domain":[0,350],"nice":false,"zero":false},"axis":null},"y2":{"datum":0}}},
      {"data":{"values":[{}]},"mark":{"type":"text","text":"QPS-10ms","align":"left","baseline":"alphabetic","dy":-2,"fontSize":12,"fontWeight":"bold","fill":"#000"},
       "encoding":{"x":{"datum":-7.2,"type":"quantitative","scale":{"domain":[-16,34.3],"nice":false,"zero":false}},"y":{"datum":350,"type":"quantitative","scale":{"domain":[0,350],"nice":false,"zero":false},"axis":null}}},
      {"mark":{"type":"errorbar","color":"#000","ticks":{"size":7},"rule":{"strokeWidth":1}},
       "encoding":{"x":{"field":"t","type":"quantitative","title":"Time (min)","scale":{"domain":[-16,34.3],"nice":false,"zero":false}},"y":{"field":"lo","type":"quantitative","scale":{"domain":[0,350],"nice":false,"zero":false},"axis":null},"y2":{"field":"hi"}}},
      {"transform":[{"filter":"datum.t > 0"}],"mark":{"type":"line","color":"#000","strokeWidth":1},
       "encoding":{"x":{"field":"t","type":"quantitative","title":"Time (min)","scale":{"domain":[-16,34.3],"nice":false,"zero":false}},"y":{"field":"mean","type":"quantitative","scale":{"domain":[0,350],"nice":false,"zero":false},"axis":null}}},
      {"mark":{"type":"point","filled":true,"opacity":1,"size":36,"color":"#000"},
       "encoding":{"x":{"field":"t","type":"quantitative","scale":{"domain":[-16,34.3],"nice":false,"zero":false},"axis":{"title":"Time (min)","values":[-9.5,0,10,20,30],"labelExpr":"datum.value == -9.5 ? 'baseline1' : datum.label","titleX":108}},
                   "y":{"field":"mean","type":"quantitative","scale":{"domain":[0,350],"nice":false,"zero":false},"axis":null}}},
      {"transform":[{"filter":"datum.sig"}],"mark":{"type":"text","text":"*","dy":-2,"fontSize":13,"baseline":"alphabetic","fill":"#000"},
       "encoding":{"x":{"field":"t","type":"quantitative","title":"Time (min)","scale":{"domain":[-16,34.3],"nice":false,"zero":false}},"y":{"field":"hi","type":"quantitative","scale":{"domain":[0,350],"nice":false,"zero":false},"axis":null}}},
      {"data":{"values":[{}]},"mark":{"type":"rule","color":"#000","strokeWidth":1.5},
       "encoding":{"x":{"datum":-16,"type":"quantitative","scale":{"domain":[-16,34.3],"nice":false,"zero":false}},"y":{"datum":0,"type":"quantitative","scale":{"domain":[0,350],"nice":false,"zero":false},"axis":null},"y2":{"datum":350}}},
      {"data":{"name":"ytL"},"mark":{"type":"rule","color":"#000","strokeWidth":1.5,"x2Offset":-4},
       "encoding":{"x":{"datum":-16,"type":"quantitative","scale":{"domain":[-16,34.3],"nice":false,"zero":false}},"x2":{"datum":-16},"y":{"field":"v","type":"quantitative","scale":{"domain":[0,350],"nice":false,"zero":false},"axis":null}}},
      {"data":{"name":"ytL"},"mark":{"type":"text","align":"right","baseline":"middle","dx":-5,"fontSize":11,"fill":"#000"},
       "encoding":{"x":{"datum":-16,"type":"quantitative","scale":{"domain":[-16,34.3],"nice":false,"zero":false}},"y":{"field":"v","type":"quantitative","scale":{"domain":[0,350],"nice":false,"zero":false},"axis":null},"text":{"field":"v","type":"quantitative"}}},
      {"data":{"values":[{}]},"mark":{"type":"text","text":"% of baseline","angle":270,"align":"center","baseline":"middle","dy":-28,"fontSize":12,"fill":"#000"},
       "encoding":{"x":{"datum":-16,"type":"quantitative","scale":{"domain":[-16,34.3],"nice":false,"zero":false}},"y":{"datum":175,"type":"quantitative","scale":{"domain":[0,350],"nice":false,"zero":false},"axis":null}}}
     ]},
    {"width":167,"height":90,
     "title":{"text":"H","dx":-42,"offset":-9},
     "data":{"name":"pts"},
     "transform":[{"filter":"datum.panel === 'H'"}],
     "layer":[
      {"data":{"values":[{}]},"mark":{"type":"rule","color":"#000","strokeWidth":1.5,"strokeDash":[1.5,2]},
       "encoding":{"y":{"datum":100,"type":"quantitative","scale":{"domain":[0,150],"nice":false,"zero":false},"axis":null}}},
      {"data":{"values":[{}]},"mark":{"type":"rect","color":"#a8a8a8"},
       "encoding":{"x":{"datum":-6.9,"type":"quantitative","scale":{"domain":[-14.6,35.2],"nice":false,"zero":false}},"x2":{"datum":-0.2},"y":{"datum":13,"type":"quantitative","scale":{"domain":[0,150],"nice":false,"zero":false},"axis":null},"y2":{"datum":150}}},
      {"data":{"values":[{}]},"mark":{"type":"rect","color":"#fff","yOffset":3.5,"y2Offset":-3.5},
       "encoding":{"x":{"datum":-4.2,"type":"quantitative","scale":{"domain":[-14.6,35.2],"nice":false,"zero":false}},"x2":{"datum":-3.1},"y":{"datum":0,"type":"quantitative","scale":{"domain":[0,150],"nice":false,"zero":false},"axis":null},"y2":{"datum":0}}},
      {"data":{"values":[{}]},"mark":{"type":"rule","color":"#000","strokeWidth":1.2,"yOffset":6,"y2Offset":-7},
       "encoding":{"x":{"datum":-4.2,"type":"quantitative","scale":{"domain":[-14.6,35.2],"nice":false,"zero":false}},"y":{"datum":0,"type":"quantitative","scale":{"domain":[0,150],"nice":false,"zero":false},"axis":null},"y2":{"datum":0}}},
      {"data":{"values":[{}]},"mark":{"type":"rule","color":"#000","strokeWidth":1.2,"yOffset":6,"y2Offset":-7},
       "encoding":{"x":{"datum":-3.1,"type":"quantitative","scale":{"domain":[-14.6,35.2],"nice":false,"zero":false}},"y":{"datum":0,"type":"quantitative","scale":{"domain":[0,150],"nice":false,"zero":false},"axis":null},"y2":{"datum":0}}},
      {"data":{"values":[{}]},"mark":{"type":"text","text":"QPS-1250ms","align":"left","baseline":"alphabetic","dy":-2,"fontSize":12,"fontWeight":"bold","fill":"#000"},
       "encoding":{"x":{"datum":-6.9,"type":"quantitative","scale":{"domain":[-14.6,35.2],"nice":false,"zero":false}},"y":{"datum":150,"type":"quantitative","scale":{"domain":[0,150],"nice":false,"zero":false},"axis":null}}},
      {"mark":{"type":"errorbar","color":"#000","ticks":{"size":7},"rule":{"strokeWidth":1}},
       "encoding":{"x":{"field":"t","type":"quantitative","title":"Time (min)","scale":{"domain":[-14.6,35.2],"nice":false,"zero":false}},"y":{"field":"lo","type":"quantitative","scale":{"domain":[0,150],"nice":false,"zero":false},"axis":null},"y2":{"field":"hi"}}},
      {"transform":[{"filter":"datum.t > 0"}],"mark":{"type":"line","color":"#000","strokeWidth":1},
       "encoding":{"x":{"field":"t","type":"quantitative","title":"Time (min)","scale":{"domain":[-14.6,35.2],"nice":false,"zero":false}},"y":{"field":"mean","type":"quantitative","scale":{"domain":[0,150],"nice":false,"zero":false},"axis":null}}},
      {"mark":{"type":"point","filled":true,"opacity":1,"size":36,"color":"#000"},
       "encoding":{"x":{"field":"t","type":"quantitative","scale":{"domain":[-14.6,35.2],"nice":false,"zero":false},"axis":{"title":"Time (min)","values":[-9.5,0,10,20,30],"labelExpr":"datum.value == -9.5 ? 'baseline1' : datum.label","titleX":107}},
                   "y":{"field":"mean","type":"quantitative","scale":{"domain":[0,150],"nice":false,"zero":false},"axis":null}}},
      {"transform":[{"filter":"datum.sig"}],"mark":{"type":"text","text":"*","dy":-2,"fontSize":13,"baseline":"alphabetic","fill":"#000"},
       "encoding":{"x":{"field":"t","type":"quantitative","title":"Time (min)","scale":{"domain":[-14.6,35.2],"nice":false,"zero":false}},"y":{"field":"hi","type":"quantitative","scale":{"domain":[0,150],"nice":false,"zero":false},"axis":null}}},
      {"data":{"values":[{}]},"mark":{"type":"rule","color":"#000","strokeWidth":1.5},
       "encoding":{"x":{"datum":-14.6,"type":"quantitative","scale":{"domain":[-14.6,35.2],"nice":false,"zero":false}},"y":{"datum":0,"type":"quantitative","scale":{"domain":[0,150],"nice":false,"zero":false},"axis":null},"y2":{"datum":150}}},
      {"data":{"name":"ytR"},"mark":{"type":"rule","color":"#000","strokeWidth":1.5,"x2Offset":-4},
       "encoding":{"x":{"datum":-14.6,"type":"quantitative","scale":{"domain":[-14.6,35.2],"nice":false,"zero":false}},"x2":{"datum":-14.6},"y":{"field":"v","type":"quantitative","scale":{"domain":[0,150],"nice":false,"zero":false},"axis":null}}},
      {"data":{"name":"ytR"},"mark":{"type":"text","align":"right","baseline":"middle","dx":-5,"fontSize":11,"fill":"#000"},
       "encoding":{"x":{"datum":-14.6,"type":"quantitative","scale":{"domain":[-14.6,35.2],"nice":false,"zero":false}},"y":{"field":"v","type":"quantitative","scale":{"domain":[0,150],"nice":false,"zero":false},"axis":null},"text":{"field":"v","type":"quantitative"}}},
      {"data":{"values":[{}]},"mark":{"type":"text","text":"% of baseline","angle":270,"align":"center","baseline":"middle","dy":-28,"fontSize":12,"fill":"#000"},
       "encoding":{"x":{"datum":-14.6,"type":"quantitative","scale":{"domain":[-14.6,35.2],"nice":false,"zero":false}},"y":{"datum":75,"type":"quantitative","scale":{"domain":[0,150],"nice":false,"zero":false},"axis":null}}}
     ]}
   ]}
  ]}
 ]}
]
}
